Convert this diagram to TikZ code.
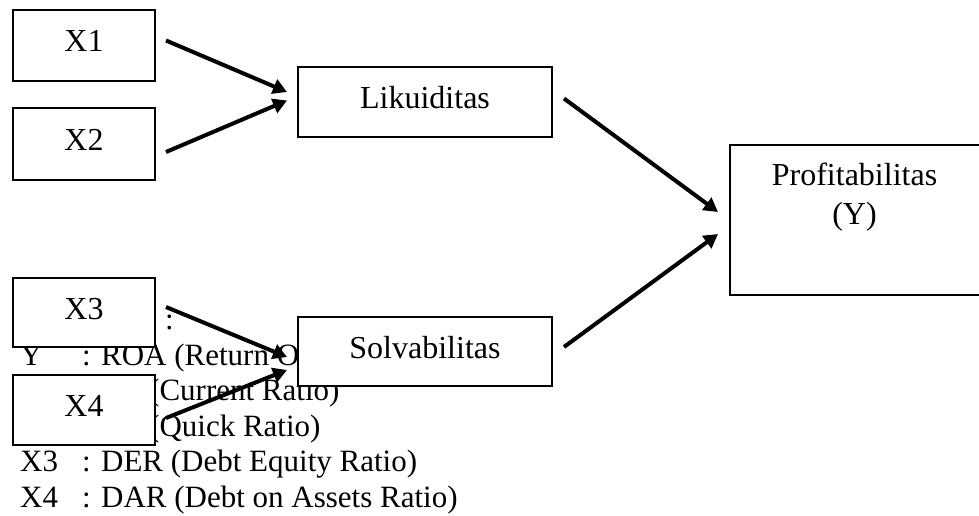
\documentclass[tikz,border=0pt]{standalone}
\usepackage{fontspec}
\setmainfont{Liberation Serif}
\usetikzlibrary{arrows.meta}

\begin{document}
\begin{tikzpicture}[x=1pt,y=-1pt,
  font=\fontsize{31}{37}\selectfont,
  box/.style={draw, line width=2pt, fill=white, inner sep=0pt, text height=19pt, text depth=6pt,
    font=\fontsize{32}{38}\selectfont},
  arr/.style={line width=4pt, -{Triangle[length=14pt,width=15pt]}},
  key/.style={anchor=base west, inner sep=0pt}]
\useasboundingbox (0,0) rectangle (979,516);

\node[key] (keycolon) at (165,329.5) {:};
\node[key] (keyY) at (20,365) {Y};
\node[key] (keyYtext) at (82,365) {: ROA (Return O};
\node[key] (keyXatext) at (149,400.5) {(Current Ratio)};
\node[key] (keyXbtext) at (149,436) {(Quick Ratio)};
\node[key] (keyXc) at (20,471.5) {X3};
\node[key] (keyXctext) at (82,471.5) {: DER (Debt Equity Ratio)};
\node[key] (keyXd) at (20,507) {X4};
\node[key] (keyXdtext) at (82,507) {: DAR (Debt on Assets Ratio)};

\node[box, minimum width=142pt, minimum height=71pt] (x1) at (84,45.5) {X1};
\node[box, minimum width=142pt, minimum height=72pt] (x2) at (84,144) {X2};
\node[box, minimum width=142pt, minimum height=69pt] (x3) at (84,312.5) {X3};
\node[box, minimum width=142pt, minimum height=70pt] (x4) at (84,410) {X4};
\node[box, minimum width=254pt, minimum height=70pt] (lik) at (425,102) {Likuiditas};
\node[box, minimum width=254pt, minimum height=69pt] (solv) at (425,351.5) {Solvabilitas};
\node[box, minimum width=249.5pt, minimum height=150pt] (prof) at (854.75,220) {};
\node[anchor=base, inner sep=0pt, font=\fontsize{32}{38}\selectfont] (proftitle) at (854.5,185) {Profitabilitas};
\node[anchor=base, inner sep=0pt, font=\fontsize{32}{38}\selectfont] (profy) at (854.5,224) {(Y)};

\draw[arr] ([xshift=10pt,yshift=5pt]x1.east) -- ([xshift=-10pt,yshift=10pt]lik.west);
\draw[arr] ([xshift=10pt,yshift=-8pt]x2.east) -- ([xshift=-10pt,yshift=1.5pt]lik.west);
\draw[arr] ([xshift=10pt,yshift=5.5pt]x3.east) -- ([xshift=-10pt,yshift=-5.5pt]solv.west);
\draw[arr] ([xshift=10pt,yshift=-8pt]x4.east) -- ([xshift=-10pt,yshift=-18.5pt]solv.west);
\draw[arr] ([xshift=11pt,yshift=3.5pt]lik.east) -- ([xshift=-11pt,yshift=8pt]prof.west);
\draw[arr] ([xshift=11pt,yshift=4.5pt]solv.east) -- ([xshift=-11pt,yshift=-14pt]prof.west);
\end{tikzpicture}
\end{document}
